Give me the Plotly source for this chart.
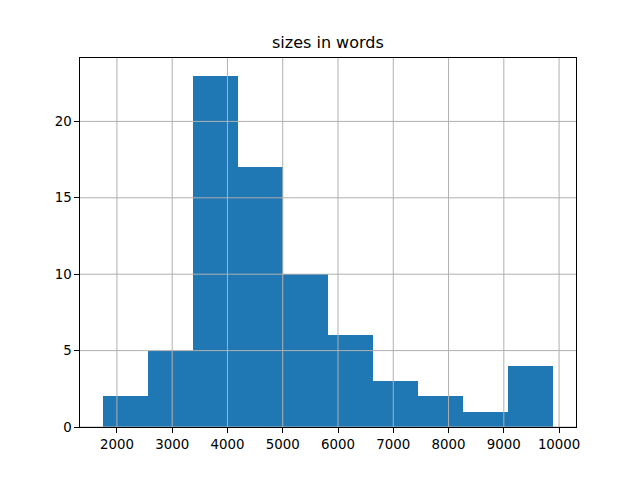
import numpy as np
import plotly.graph_objects as go

title = "sizes in words"
bin_start = 1740
bin_end = 9898
counts = [2, 5, 23, 17, 10, 6, 3, 2, 1, 4]
x_ticks = [2000, 3000, 4000, 5000, 6000, 7000, 8000, 9000, 10000]
y_ticks = [0, 5, 10, 15, 20]

edges = np.linspace(bin_start, bin_end, len(counts) + 1)
centers = (edges[:-1] + edges[1:]) / 2
width = edges[1] - edges[0]

span = bin_end - bin_start
x_range = [bin_start - 0.05 * span, bin_end + 0.05 * span]
y_range = [0, max(counts) * 1.05]

fig = go.Figure()
fig.add_trace(go.Bar(x=centers, y=counts, width=[width] * len(counts),
                     marker=dict(color="#1f77b4", line=dict(width=0)),
                     hoverinfo="skip"))

grid_color = "#b0b0b0"
for t in x_ticks:
    fig.add_shape(type="line", xref="x", yref="paper", x0=t, x1=t, y0=0, y1=1,
                  line=dict(color=grid_color, width=1), layer="above")
for t in y_ticks:
    fig.add_shape(type="line", xref="paper", yref="y", x0=0, x1=1, y0=t, y1=t,
                  line=dict(color=grid_color, width=1), layer="above")

font = dict(family="DejaVu Sans", size=13.33, color="black")
axis_common = dict(showgrid=False, zeroline=False, showline=True, mirror=True,
                   linecolor="black", linewidth=1, ticks="outside", ticklen=4.67,
                   tickwidth=1, tickcolor="black", tickfont=font)

fig.update_xaxes(range=x_range, tickvals=x_ticks, ticktext=[str(t) for t in x_ticks],
                 **axis_common)
fig.update_yaxes(range=y_range, tickvals=y_ticks, ticktext=[str(t) for t in y_ticks],
                 **axis_common)

fig.add_annotation(text=title, xref="paper", yref="paper", x=0.5, y=1,
                   xanchor="center", yanchor="bottom", yshift=4, showarrow=False,
                   font=dict(family="DejaVu Sans", size=16, color="black"))

# page body has an 8px default margin, so the figure is 8px smaller
fig.update_layout(width=632, height=472, plot_bgcolor="white", paper_bgcolor="white",
                  margin=dict(l=72, r=64, t=50, b=53, pad=0), showlegend=False,
                  bargap=0)

fig.write_html("out.html", config={"displayModeBar": False})
